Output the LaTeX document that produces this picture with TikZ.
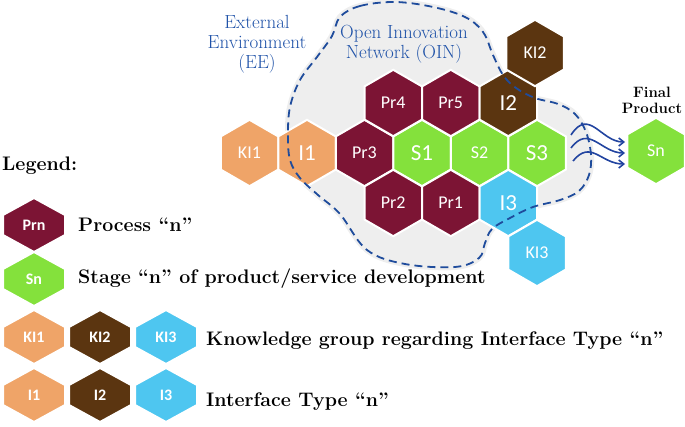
\documentclass[tikz,border=0pt]{standalone}
\usepackage{fontspec}
\newfontfamily\cellfont{Carlito}
\usetikzlibrary{arrows.meta}

\definecolor{procred}{HTML}{7C1434}
\definecolor{stagegreen}{HTML}{84E13C}
\definecolor{ifaceone}{HTML}{EFA468}
\definecolor{ifacetwo}{HTML}{5B3510}
\definecolor{ifacethree}{HTML}{4EC6F0}
\definecolor{oinblue}{HTML}{1F4C9C}
\definecolor{eeblue}{HTML}{1F52A8}
\definecolor{wavecol}{HTML}{2244A0}
\definecolor{oinfill}{HTML}{EEEEEE}

\tikzset{
  celltext/.style={text=white, inner sep=0pt},
  bigtxt/.style={font=\cellfont\fontsize{23}{23}\selectfont},
  smalltxt/.style={font=\cellfont\fontsize{18}{18}\selectfont},
  legtxt/.style={font=\cellfont\bfseries\fontsize{16}{16}\selectfont},
  legline/.style={anchor=base west, inner sep=0pt, font=\bfseries\fontsize{19.6}{22}\selectfont},
  bluelbl/.style={text=eeblue, align=center, font=\fontsize{19}{20}\selectfont},
  wave/.style={wavecol, line width=1.6pt, -{Straight Barb[length=5pt,width=8pt]}}
}

\newcommand{\oinpath}{plot[smooth cycle, tension=0.6] coordinates {
  (340,17) (360,6) (395,2) (433,7) (465,17) (483,32) (493,55) (503,75)
  (516,88) (535,98) (558,104) (575,114) (586,132) (591,155) (589,175)
  (579,191) (560,200) (533,207) (510,218) (492,229) (485,243) (479,258)
  (455,267) (405,264) (367,250) (340,214) (318,195) (300,178) (290,160)
  (288,135) (290,107) (300,80) (317,57) (332,36)}}

\begin{document}
\begin{tikzpicture}[x=1pt, y=-1pt]
	\useasboundingbox (0,0) rectangle (685,427);
	% grey area of the network
	\fill [oinfill, draw=oinfill, line width=6pt] \oinpath;
	% cells
	\foreach \nm/\cx/\cy/\col/\txt/\sz in {
		KIone/249.5/153/ifaceone/KI1/smalltxt, Ione/307/153/ifaceone/I1/bigtxt,
		Prthree/364.5/153/procred/Pr3/smalltxt, Sone/422/153/stagegreen/S1/bigtxt,
		Stwo/479.5/153/stagegreen/S2/smalltxt, Sthree/537/153/stagegreen/S3/bigtxt,
		Prfour/393.25/103/procred/Pr4/smalltxt, Prfive/450.75/103/procred/Pr5/smalltxt,
		Itwo/508.25/103/ifacetwo/I2/bigtxt, KItwo/535/53/ifacetwo/KI2/smalltxt,
		Prtwo/393.25/203/procred/Pr2/smalltxt, Prone/450.75/203/procred/Pr1/smalltxt,
		Ithree/508.25/203/ifacethree/I3/bigtxt, KIthree/537/253/ifacethree/KI3/smalltxt,
		finalSn/656/151/stagegreen/Sn/smalltxt}
	{
		\fill [\col, draw=white, line width=2pt] (\cx,\cy) +(0,-33.2) -- +(28.75,-16.6) -- +(28.75,16.6)
			-- +(0,33.2) -- +(-28.75,16.6) -- +(-28.75,-16.6) -- cycle;
		\node [celltext, \sz] (\nm) at (\cx,\cy) {\txt};
	}
	\draw [oinblue, line width=1.8pt, dash pattern=on 8pt off 5pt] \oinpath;
	% labels
	\node [bluelbl] (eeLbl) at (257,44) {External\\Environment\\(EE)};
	\node [bluelbl] (oinLbl) at (404,44) {Open Innovation\\Network (OIN)};
	\node [align=center, font=\bfseries\fontsize{15}{16}\selectfont] (finalLbl) at (652,100) {Final\\Product};
	% flows to the final product
	\coordinate (waveAs) at (571,135); \coordinate (waveAe) at (625,142);
	\coordinate (waveBs) at (571,148); \coordinate (waveBe) at (625,153);
	\coordinate (waveCs) at (573,161); \coordinate (waveCe) at (625,164);
	\draw [wave] (waveAs) .. controls +(18,-28) and +(-24,0) .. (waveAe);
	\draw [wave] (waveBs) .. controls +(18,-24) and +(-24,0) .. (waveBe);
	\draw [wave] (waveCs) .. controls +(18,-22) and +(-24,0) .. (waveCe);
	% legend
	\node [legline] (legTitle) at (2,171) {Legend:};
	\foreach \nm/\cx/\cy/\col/\txt in {
		legPrn/34/225/procred/Prn, legSn/34/279/stagegreen/Sn,
		legKIone/34/337/ifaceone/KI1, legKItwo/100/337/ifacetwo/KI2, legKIthree/166/337/ifacethree/KI3,
		legIone/34/395/ifaceone/I1, legItwo/100/395/ifacetwo/I2, legIthree/166/395/ifacethree/I3}
	{
		\fill [\col, draw=white, line width=2pt] (\cx,\cy) +(0,-27) -- +(31,-10) -- +(31,10)
			-- +(0,27) -- +(-31,10) -- +(-31,-10) -- cycle;
		\node [celltext, legtxt] (\nm) at (\cx,\cy) {\txt};
	}
	\node [legline] (legProc) at (78,232) {Process “n”};
	\node [legline] (legStage) at (78,284) {Stage “n” of product/service development};
	\node [legline] (legKnow) at (206,345) {Knowledge group regarding Interface Type “n”};
	\node [legline] (legIface) at (206,406) {Interface Type “n”};
\end{tikzpicture}
\end{document}
